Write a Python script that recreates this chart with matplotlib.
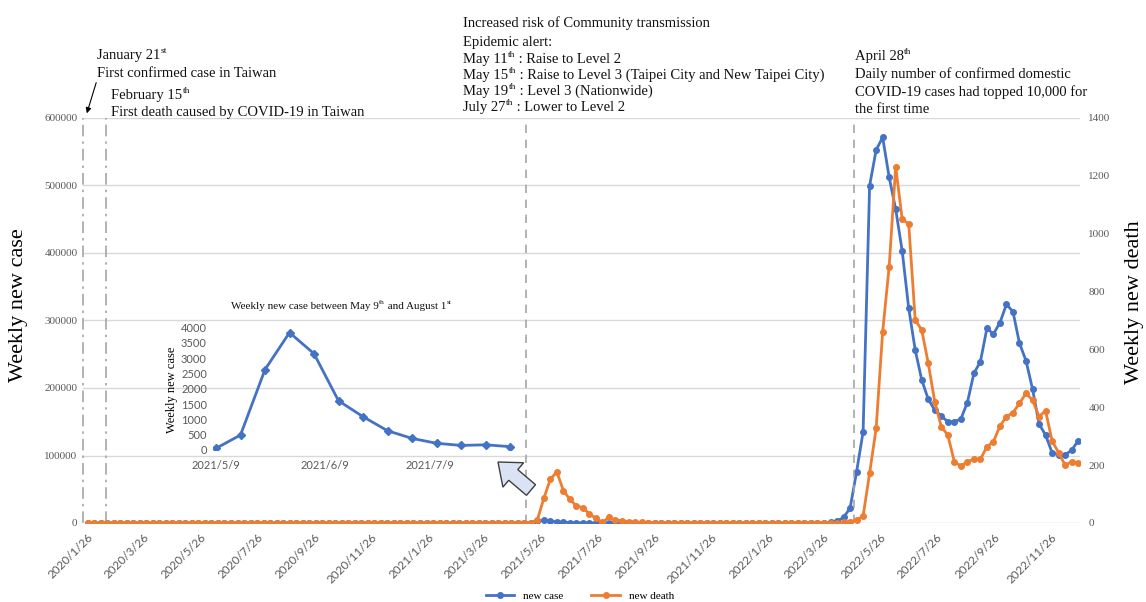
import numpy as np
import pandas as pd
import matplotlib
matplotlib.use('Agg')
from matplotlib import pyplot as plt
from matplotlib.patches import FancyArrow

plt.rcParams['font.family'] = ['Liberation Serif', 'DejaVu Serif']

# weekly series, first week 2020/1/26
start_week = '2020-01-26'

new_case = [
    0, 0, 0, 0, 0, 0, 0, 0, 0, 0,
    0, 0, 0, 0, 0, 0, 0, 0, 0, 0,
    0, 0, 0, 0, 0, 0, 0, 0, 0, 0,
    0, 0, 0, 0, 0, 0, 0, 0, 0, 0,
    0, 0, 0, 0, 0, 0, 0, 0, 0, 0,
    0, 0, 0, 0, 0, 0, 0, 0, 0, 0,
    0, 0, 0, 0, 0, 0, 0, 55, 490, 2630,
    3840, 3150, 1610, 1090, 630, 380, 220, 150, 170, 110,
    0, 0, 0, 0, 0, 0, 0, 0, 0, 0,
    0, 0, 0, 0, 0, 0, 0, 0, 0, 0,
    0, 0, 0, 0, 0, 0, 0, 0, 0, 0,
    0, 0, 0, 300, 800, 2500, 8400, 21800, 76000, 135000,
    499700, 552600, 571400, 512100, 465000, 403000, 318000, 256300, 211900, 183300,
    167400, 158500, 150100, 150100, 154100, 178300, 221700, 239000, 288400, 280000,
    296800, 324000, 313000, 266200, 240500, 198500, 146700, 130400, 104200, 100700,
    100700, 108100, 121500,
]

new_death = [
    0, 0, 0, 0, 0, 0, 0, 0, 0, 0,
    0, 0, 0, 0, 0, 0, 0, 0, 0, 0,
    0, 0, 0, 0, 0, 0, 0, 0, 0, 0,
    0, 0, 0, 0, 0, 0, 0, 0, 0, 0,
    0, 0, 0, 0, 0, 0, 0, 0, 0, 0,
    0, 0, 0, 0, 0, 0, 0, 0, 0, 0,
    0, 0, 0, 0, 0, 0, 0, 0, 0, 10,
    85, 151, 177, 112, 82, 59, 53, 31, 16, 2,
    20, 10, 8, 5, 3, 2, 1, 1, 0, 0,
    0, 0, 0, 0, 0, 0, 0, 0, 0, 0,
    0, 0, 0, 0, 0, 0, 0, 0, 0, 0,
    0, 0, 0, 0, 0, 1, 2, 5, 10, 24,
    172, 327, 661, 886, 1232, 1050, 1034, 702, 667, 552,
    419, 333, 304, 212, 197, 212, 220, 220, 264, 281,
    335, 368, 381, 414, 448, 425, 368, 388, 284, 243,
    200, 212, 208,
]

tick_labels = ['2020/1/26', '2020/3/26', '2020/5/26', '2020/7/26', '2020/9/26',
               '2020/11/26', '2021/1/26', '2021/3/26', '2021/5/26', '2021/7/26',
               '2021/9/26', '2021/11/26', '2022/1/26', '2022/3/26', '2022/5/26',
               '2022/7/26', '2022/9/26', '2022/11/26']
inset_ticks = ['2021/5/9', '2021/6/9', '2021/7/9']
event_dates = ['2020-01-21', '2020-02-15', '2021-05-11', '2022-04-28']

weeks = pd.date_range(start_week, periods=len(new_case), freq='7D')
df = pd.DataFrame({'case': new_case, 'death': new_death}, index=weeks)
inset = df.loc['2021-05-09':'2021-08-01']

blue = '#4472c4'
orange = '#ed7d31'
grey = '#595959'

W, H = 1146, 602
fig = plt.figure(figsize=(W / 100, H / 100), dpi=100)


def px(x0, y0, x1, y1):
    return [x0 / W, 1 - y1 / H, (x1 - x0) / W, (y1 - y0) / H]


ax = fig.add_axes(px(83, 118, 1080, 523))
ax2 = ax.twinx()

l1, = ax.plot(df.index, df.case, color=blue, marker='o', ms=4, lw=2)
l2, = ax2.plot(df.index, df.death, color=orange, marker='o', ms=4, lw=2)

ax.set_xlim(pd.Timestamp('2020-01-21'), pd.Timestamp('2022-12-27'))
ax.set_ylim(0, 600000)
ax2.set_ylim(0, 1400)
yt = list(range(0, 600001, 100000))
ax.set_yticks(yt)
ax.set_yticklabels([str(v) for v in yt], fontsize=8, color=grey)
yt2 = list(range(0, 1401, 200))
ax2.set_yticks(yt2)
ax2.set_yticklabels([str(v) for v in yt2], fontsize=8, color=grey)
ax.tick_params(axis='y', length=0, pad=4)
ax2.tick_params(axis='y', length=0, pad=6)
ax.grid(axis='y', color='#d9d9d9', lw=1)
ax.set_axisbelow(True)
for a in (ax, ax2):
    for s in a.spines.values():
        s.set_visible(False)

ax.set_xticks(pd.to_datetime(tick_labels, format='%Y/%m/%d'))
ax.set_xticklabels(tick_labels, rotation=45, ha='right', rotation_mode='anchor',
                   fontsize=8.5, color=grey, family='Lato')
ax.tick_params(axis='x', length=0, pad=6)

styles = [(0, (7, 3, 1.5, 3)), (0, (7, 3, 1.5, 3)), (0, (5, 4)), (0, (5, 4))]
for d, st in zip(event_dates, styles):
    ax.axvline(pd.Timestamp(d), color='#a6a6a6', lw=1.2, ls=st, clip_on=False)

# inset
ax_in = fig.add_axes(px(212.5, 327.7, 513.5, 450))
ax_in.patch.set_alpha(0)
ax_in.plot(inset.index, inset.case, color=blue, marker='D', ms=4.5, lw=2)
ax_in.set_xlim(pd.Timestamp('2021-05-08'), pd.Timestamp('2021-08-02'))
ax_in.set_ylim(0, 4000)
ax_in.set_yticks(range(0, 4001, 500))
ax_in.set_yticklabels([str(v) for v in range(0, 4001, 500)], fontsize=8, color=grey, family='Lato')
ax_in.set_xticks(pd.to_datetime(inset_ticks, format='%Y/%m/%d'))
ax_in.set_xticklabels(inset_ticks, fontsize=8, color=grey, family='Lato')
ax_in.tick_params(length=0, pad=4)
ax_in.tick_params(axis='x', pad=7)
for s in ax_in.spines.values():
    s.set_visible(False)

# overlay for notes, in pixel units
ov = fig.add_axes([0, 0, 1, 1])
ov.set_xlim(0, W)
ov.set_ylim(H, 0)
ov.axis('off')


def note(x, y, parts, fs=10.5, ha='left'):
    # parts alternate: normal, superscript, normal, ...
    base = ov.text(x, y, parts[0], fontsize=fs, va='baseline', ha=ha, color='#111111')
    prev = base
    for k, s in enumerate(parts[1:]):
        if k % 2 == 0:
            prev = ov.annotate(s, xy=(1, 1), xycoords=prev, xytext=(0.3, 1.3),
                               textcoords='offset points', va='top', ha='left',
                               fontsize=fs * 0.65, color='#111111')
        else:
            prev = ov.annotate(s, xy=(1, 0), xycoords=(prev, base), va='bottom',
                               ha='left', fontsize=fs, color='#111111')


note(97, 59, ['January 21', 'st'])
note(97, 77, ['First confirmed case in Taiwan'])
note(111, 99, ['February 15', 'th'])
note(111, 116, ['First death caused by COVID-19 in Taiwan'])
note(463, 27, ['Increased risk of Community transmission'])
note(463, 46, ['Epidemic alert:'])
note(463, 63, ['May 11', 'th', ' : Raise to Level 2'])
note(463, 79, ['May 15', 'th', ' : Raise to Level 3 (Taipei City and New Taipei City)'])
note(463, 95, ['May 19', 'th', ' : Level 3 (Nationwide)'])
note(463, 111, ['July 27', 'th', ' : Lower to Level 2'])
note(855, 60, ['April 28', 'th'])
note(855, 78, ['Daily number of confirmed domestic'])
note(855, 96, ['COVID-19 cases had topped 10,000 for'])
note(855, 113, ['the first time'])

ov.annotate('', xy=(86, 116), xytext=(97, 80),
            arrowprops=dict(arrowstyle='-|>', color='black', lw=0.8, mutation_scale=8))

ov.text(19, 305, 'Weekly new case', rotation=90, va='center', ha='center', fontsize=16)
ov.text(1134, 302, 'Weekly new death', rotation=90, va='center', ha='center', fontsize=16)

note(231, 309, ['Weekly new case between May 9', 'th', ' and August 1', 'st'], fs=8)
ov.text(172, 390, 'Weekly new case', rotation=90, ha='center', va='center', fontsize=9)

ov.add_patch(FancyArrow(531, 490, -33, -28, width=14, head_width=32, head_length=20,
                        length_includes_head=True, fc='#dae3f3', ec='#404040', lw=1))

fig.legend(handles=[l1, l2], labels=['new case', 'new death'], loc='center',
           bbox_to_anchor=(580 / W, 1 - 596 / H), ncol=2, frameon=False,
           fontsize=8, handlelength=2.6, columnspacing=2.5)

fig.savefig('out.png', dpi=100)
